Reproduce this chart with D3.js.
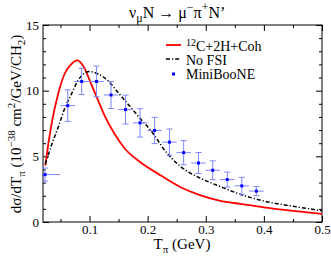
<!DOCTYPE html>
<html><head><meta charset="utf-8">
<script src="https://cdn.jsdelivr.net/npm/d3@7"></script>
<style>
body{margin:0;background:#fff;}
svg{display:block;font-family:"Liberation Serif","Times New Roman",Times,serif;}
</style></head>
<body>
<svg id="c" width="331" height="259"></svg>
<script>
// MiniBooNE data
const dataX = [0.0235, 0.0625, 0.0865, 0.1120, 0.1370, 0.1620, 0.1870, 0.2120, 0.2375, 0.2620, 0.2875, 0.3120, 0.3370, 0.3620, 0.3870];
const dataY = [3.61, 8.86, 10.70, 10.70, 9.67, 8.56, 7.55, 6.97, 6.08, 5.28, 4.49, 3.94, 3.23, 2.75, 2.35];
const dataYErr = [0.5, 1.2, 1.0, 1.17, 1.03, 1.1, 1.08, 1.0, 1.0, 0.92, 0.8, 0.72, 0.57, 0.65, 0.35];
const dataXErrLo = [0.006, 0.0125, 0.0125, 0.0125, 0.0125, 0.0125, 0.0125, 0.0125, 0.0125, 0.0125, 0.0125, 0.0125, 0.0125, 0.0125, 0.0125];
const dataXErrHi = [0.026, 0.0125, 0.0125, 0.0125, 0.0125, 0.0125, 0.0125, 0.0125, 0.0125, 0.0125, 0.0125, 0.0125, 0.0125, 0.0125, 0.0125];
// 12C+2H+Coh curve
const redX = [0.024, 0.030, 0.037, 0.046, 0.057, 0.0687, 0.079, 0.089, 0.103, 0.115, 0.126, 0.143, 0.161, 0.187, 0.222, 0.256, 0.290, 0.325, 0.36, 0.40, 0.45, 0.50];
const redY = [4.3, 6.2, 7.98, 9.75, 11.27, 12.02, 12.3, 11.9, 10.5, 9.24, 8.1, 6.72, 5.58, 4.57, 3.56, 2.67, 2.05, 1.61, 1.38, 1.12, 0.85, 0.62];
// No FSI curve
const blackX = [0.024, 0.035, 0.046, 0.057, 0.069, 0.080, 0.092, 0.100, 0.115, 0.132, 0.149, 0.166, 0.187, 0.21, 0.227, 0.256, 0.29, 0.325, 0.36, 0.40, 0.45, 0.50];
const blackY = [4.4, 5.9, 7.2, 8.6, 9.75, 10.76, 11.35, 11.46, 11.27, 10.76, 9.87, 8.99, 7.9, 6.7, 5.6, 4.25, 3.35, 2.7, 2.1, 1.6, 1.2, 0.86];
// ticks
const xMajor = [0.1, 0.2, 0.3, 0.4, 0.5];
const xMinor = [0.05, 0.15, 0.25, 0.35, 0.45];
const yMajor = [0, 5, 10, 15];
const yMinor = [1, 2, 3, 4, 6, 7, 8, 9, 11, 12, 13, 14];

const FONT = '"Liberation Serif","Times New Roman",Times,serif';
const L = 43, R = 322, T = 25, B = 222;
const svg = d3.select("#c");
const x = d3.scaleLinear().domain([0.02, 0.5]).range([L, R]);
const y = d3.scaleLinear().domain([0, 15]).range([B, T]);

function styleAxis(g){
  g.select(".domain").remove();
  g.selectAll("line").attr("stroke", "#000").attr("stroke-width", 1);
  g.selectAll("text").attr("font-size", 13).attr("fill", "#000").attr("font-family", FONT);
}
// bottom
svg.append("g").attr("transform", `translate(0,${B})`)
  .call(d3.axisBottom(x).tickValues(xMajor).tickSize(-6).tickSizeOuter(0).tickPadding(3).tickFormat(d3.format(".1f")))
  .call(styleAxis);
svg.append("g").attr("transform", `translate(0,${B})`)
  .call(d3.axisBottom(x).tickValues(xMinor).tickSize(-3).tickSizeOuter(0).tickFormat(""))
  .call(styleAxis);
// top
svg.append("g").attr("transform", `translate(0,${T})`)
  .call(d3.axisTop(x).tickValues(xMajor).tickSize(-6).tickSizeOuter(0).tickFormat(""))
  .call(styleAxis);
svg.append("g").attr("transform", `translate(0,${T})`)
  .call(d3.axisTop(x).tickValues(xMinor).tickSize(-3).tickSizeOuter(0).tickFormat(""))
  .call(styleAxis);
// left
svg.append("g").attr("transform", `translate(${L},0)`)
  .call(d3.axisLeft(y).tickValues(yMajor).tickSize(-6).tickSizeOuter(0).tickPadding(4))
  .call(styleAxis);
svg.append("g").attr("transform", `translate(${L},0)`)
  .call(d3.axisLeft(y).tickValues(yMinor).tickSize(-3).tickSizeOuter(0).tickFormat(""))
  .call(styleAxis);
// right
svg.append("g").attr("transform", `translate(${R},0)`)
  .call(d3.axisRight(y).tickValues(yMajor).tickSize(-6).tickSizeOuter(0).tickFormat(""))
  .call(styleAxis);
svg.append("g").attr("transform", `translate(${R},0)`)
  .call(d3.axisRight(y).tickValues(yMinor).tickSize(-3).tickSizeOuter(0).tickFormat(""))
  .call(styleAxis);

// frame
svg.append("rect").attr("x", L).attr("y", T).attr("width", R - L).attr("height", B - T)
  .attr("fill", "none").attr("stroke", "#000").attr("stroke-width", 1);

// curves
svg.append("clipPath").attr("id", "clp").append("rect")
  .attr("x", L).attr("y", T).attr("width", R - L).attr("height", B - T);
const line = d3.line().x(d => x(d[0])).y(d => y(d[1])).curve(d3.curveMonotoneX);
const plot = svg.append("g").attr("clip-path", "url(#clp)");
plot.append("path").datum(redX.map((v, i) => [v, redY[i]]))
  .attr("d", line).attr("fill", "none").attr("stroke", "#ff0000").attr("stroke-width", 1.8);
plot.append("path").datum(blackX.map((v, i) => [v, blackY[i]]))
  .attr("d", line).attr("fill", "none").attr("stroke", "#000").attr("stroke-width", 1.5)
  .attr("stroke-dasharray", "4,2,1.2,2");

// error bars
const ebColor = "#7d86ff";
const pts = dataX.map((v, i) => ({x: v, y: dataY[i], e: dataYErr[i], lo: dataXErrLo[i], hi: dataXErrHi[i]}));
const eb = svg.append("g");
eb.selectAll(".v").data(pts).join("line")
  .attr("x1", d => x(d.x)).attr("x2", d => x(d.x))
  .attr("y1", d => y(d.y - d.e)).attr("y2", d => y(d.y + d.e))
  .attr("stroke", ebColor).attr("stroke-width", 1);
eb.selectAll(".h").data(pts).join("line")
  .attr("x1", d => x(d.x - d.lo)).attr("x2", d => x(d.x + d.hi))
  .attr("y1", d => y(d.y)).attr("y2", d => y(d.y))
  .attr("stroke", ebColor).attr("stroke-width", 1);
eb.selectAll(".ct").data(pts).join("line")
  .attr("x1", d => x(d.x) - 3).attr("x2", d => x(d.x) + 3)
  .attr("y1", d => y(d.y + d.e)).attr("y2", d => y(d.y + d.e))
  .attr("stroke", ebColor).attr("stroke-width", 1);
eb.selectAll(".cb").data(pts).join("line")
  .attr("x1", d => x(d.x) - 3).attr("x2", d => x(d.x) + 3)
  .attr("y1", d => y(d.y - d.e)).attr("y2", d => y(d.y - d.e))
  .attr("stroke", ebColor).attr("stroke-width", 1);
eb.selectAll("rect").data(pts).join("rect")
  .attr("x", d => x(d.x) - 1.5).attr("y", d => y(d.y) - 1.5)
  .attr("width", 3).attr("height", 3).attr("fill", "#0000ff");

// title
const title = svg.append("text").attr("x", 129).attr("y", 18).attr("font-size", 16).attr("font-family", FONT);
title.append("tspan").text("ν");
title.append("tspan").attr("dy", 4).attr("font-size", 12).text("μ");
title.append("tspan").attr("dy", -4).text("N → μ");
title.append("tspan").attr("dy", -7).attr("font-size", 12).text("−");
title.append("tspan").attr("dy", 7).text("π");
title.append("tspan").attr("dy", -7).attr("font-size", 12).text("+");
title.append("tspan").attr("dy", 7).text("N’");

// x label
const xl = svg.append("text").attr("x", 182).attr("y", 249).attr("font-size", 15).attr("text-anchor", "middle").attr("font-family", FONT);
xl.append("tspan").text("T");
xl.append("tspan").attr("dy", 4).attr("font-size", 11).text("π");
xl.append("tspan").attr("dy", -4).text(" (GeV)");

// y label
const yl = svg.append("text").attr("transform", "translate(21,124) rotate(-90)").attr("font-size", 15).attr("text-anchor", "middle").attr("font-family", FONT);
yl.append("tspan").text("dσ/dT");
yl.append("tspan").attr("dy", 4).attr("font-size", 11).text("π");
yl.append("tspan").attr("dy", -4).text("  (10");
yl.append("tspan").attr("dy", -6).attr("font-size", 11).text("−38");
yl.append("tspan").attr("dy", 6).text(" cm");
yl.append("tspan").attr("dy", -6).attr("font-size", 11).text("2");
yl.append("tspan").attr("dy", 6).text("/GeV/CH");
yl.append("tspan").attr("dy", 4).attr("font-size", 11).text("2");
yl.append("tspan").attr("dy", -4).text(")");

// legend
const lg = svg.append("g").attr("font-family", FONT);
lg.append("line").attr("x1", 166).attr("x2", 181).attr("y1", 45).attr("y2", 45).attr("stroke", "#ff0000").attr("stroke-width", 1.8);
lg.append("line").attr("x1", 166).attr("x2", 181).attr("y1", 59).attr("y2", 59).attr("stroke", "#000").attr("stroke-width", 1.5).attr("stroke-dasharray", "4,2,1.2,2");
lg.append("rect").attr("x", 172).attr("y", 72.5).attr("width", 3).attr("height", 3).attr("fill", "#0000ff");
const t1 = lg.append("text").attr("x", 186).attr("y", 51).attr("font-size", 14);
t1.append("tspan").attr("dy", -5).attr("font-size", 10).text("12");
t1.append("tspan").attr("dy", 5).text("C+2H+Coh");
lg.append("text").attr("x", 186).attr("y", 64.5).attr("font-size", 14).text("No FSI");
lg.append("text").attr("x", 186).attr("y", 78.5).attr("font-size", 14).text("MiniBooNE");
</script>
</body></html>
